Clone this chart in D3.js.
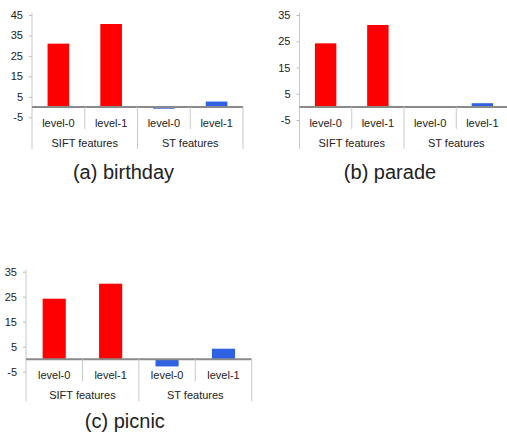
<!DOCTYPE html>
<html>
<head>
<meta charset="utf-8">
<script src="https://cdn.jsdelivr.net/npm/d3@7"></script>
<style>
  body { margin: 0; background: #fff; }
  svg { display: block; font-family: "Liberation Sans", Arial, Helvetica, sans-serif; }
</style>
</head>
<body>
<svg width="507" height="433"></svg>
<script>
const width = 507, height = 433;
const svg = d3.select("svg");

// chart data
const levels = ["level-0", "level-1", "level-0", "level-1"];
const groups = ["SIFT features", "ST features"];
const barColors = ["#ff0000", "#ff0000", "#2f62e2", "#2f62e2"];
const titles = ["(a) birthday", "(b) parade", "(c) picnic"];
const birthdayValues = [31, 40.6, -0.8, 2.7];
const paradeValues = [24.2, 31.2, 0, 1.4];
const picnicValues = [24.2, 30.2, -2.9, 4.2];
const birthdayTicks = [45, 35, 25, 15, 5, -5];
const paradeTicks = [35, 25, 15, 5, -5];
const picnicTicks = [35, 25, 15, 5, -5];

// panel layout (pixel boxes for each small chart)
const panels = [
    { values: birthdayValues, ticks: birthdayTicks, x0: 32, x1: 243, yTop: 15, yBot: 117.3, titleY: 172 },
    { values: paradeValues, ticks: paradeTicks, x0: 299.5, x1: 508.5, yTop: 15, yBot: 120, titleY: 172 },
    { values: picnicValues, ticks: picnicTicks, x0: 26, x1: 251.7, yTop: 271.7, yBot: 371.7, titleY: 421 }
];

panels.forEach((p, idx) => {
    const g = svg.append("g");
    const maxT = d3.max(p.ticks), minT = d3.min(p.ticks);

    const x = d3.scaleBand()
        .domain(d3.range(levels.length))
        .range([p.x0, p.x1])
        .paddingInner(0.59)
        .paddingOuter(0.295);

    const y = d3.scaleLinear()
        .domain([minT, maxT])
        .range([p.yBot, p.yTop]);

    const zero = y(0);

    // value axis
    g.append("g")
        .attr("transform", `translate(${p.x0},0)`)
        .call(d3.axisLeft(y).tickValues(p.ticks).tickFormat(d => String(d)).tickSize(3).tickPadding(6))
        .call(a => a.select(".domain").remove())
        .call(a => a.selectAll(".tick line").attr("stroke", "#bbb"))
        .call(a => a.selectAll(".tick text")
            .attr("fill", "#222")
            .style("font-size", "11px")
            .style("font-family", "'Liberation Sans', Arial, sans-serif"));

    g.append("line")
        .attr("x1", p.x0).attr("x2", p.x0)
        .attr("y1", y(maxT) - 2).attr("y2", zero + 42)
        .attr("stroke", "#c8c8c8");

    // bars
    g.selectAll(".bar")
        .data(p.values)
        .enter().append("rect")
        .attr("class", "bar")
        .attr("x", (d, i) => x(i))
        .attr("width", x.bandwidth())
        .attr("y", d => y(Math.max(0, d)))
        .attr("height", d => Math.abs(y(d) - zero))
        .attr("fill", (d, i) => barColors[i]);

    // zero line
    g.append("line")
        .attr("x1", p.x0).attr("x2", p.x1)
        .attr("y1", zero).attr("y2", zero)
        .attr("stroke", "#8a8a8a")
        .attr("stroke-width", 2);

    // category separators
    const step = x.step();
    [1, 3].forEach(k => {
        g.append("line")
            .attr("x1", p.x0 + k * step).attr("x2", p.x0 + k * step)
            .attr("y1", zero).attr("y2", zero + 22)
            .attr("stroke", "#c8c8c8");
    });
    [2, 4].forEach(k => {
        g.append("line")
            .attr("x1", p.x0 + k * step).attr("x2", p.x0 + k * step)
            .attr("y1", zero).attr("y2", zero + 42)
            .attr("stroke", "#c8c8c8");
    });

    // level labels
    g.selectAll(".lvl")
        .data(levels)
        .enter().append("text")
        .attr("x", (d, i) => x(i) + x.bandwidth() / 2)
        .attr("y", zero + 16)
        .attr("text-anchor", "middle")
        .attr("dominant-baseline", "central")
        .attr("fill", "#222")
        .style("font-size", "11px")
        .text(d => d);

    // group labels
    g.selectAll(".grp")
        .data(groups)
        .enter().append("text")
        .attr("x", (d, i) => p.x0 + step * (2 * i + 1))
        .attr("y", zero + 36)
        .attr("text-anchor", "middle")
        .attr("dominant-baseline", "central")
        .attr("fill", "#222")
        .style("font-size", "11px")
        .text(d => d);

    // title
    g.append("text")
        .attr("x", p.x0 + step * 2 - 14)
        .attr("y", p.titleY)
        .attr("text-anchor", "middle")
        .attr("dominant-baseline", "central")
        .attr("fill", "#222")
        .style("font-size", "20px")
        .text(titles[idx]);
});
</script>
</body>
</html>
